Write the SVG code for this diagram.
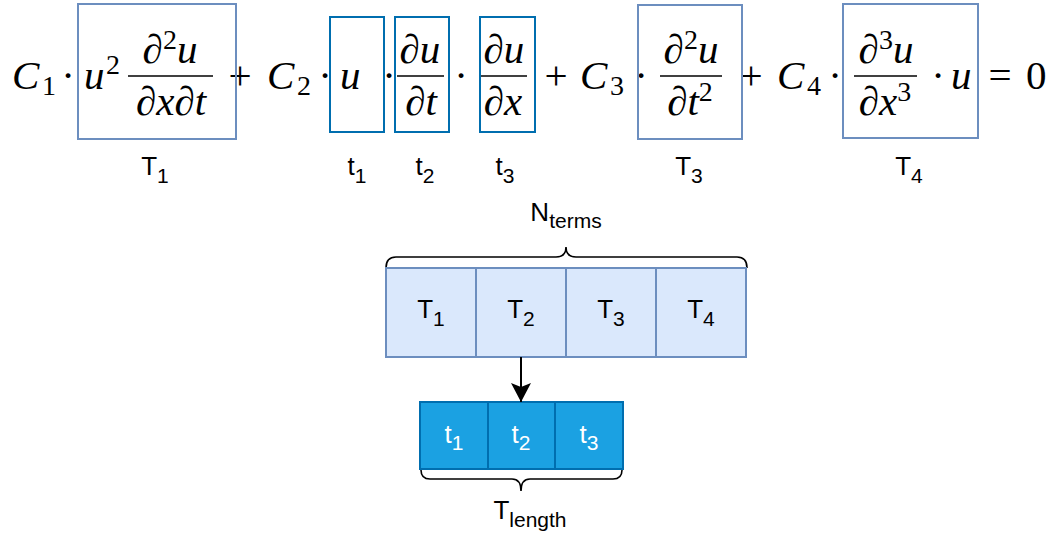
<svg xmlns="http://www.w3.org/2000/svg" width="1055" height="535" viewBox="0 0 1055 535">
<style>
.m{font-family:"Liberation Serif","Times New Roman",serif;font-size:41px;font-style:italic;fill:#000}
.r{font-style:normal}
.ms{font-size:28px}
.bar{stroke:#000;stroke-width:1.6}
.T{fill:none;stroke:#6c8ebf;stroke-width:2}
.t{fill:none;stroke:#006eaf;stroke-width:2}
.lbl{font-family:"Liberation Sans",Arial,sans-serif;font-size:26px;fill:#000}
.sub{font-size:21px}
.cellA{fill:#dae8fc;stroke:#6c8ebf;stroke-width:2}
.cellB{fill:#1ba1e2;stroke:#006eaf;stroke-width:2}
.w{fill:#fff}
.brace{fill:none;stroke:#000;stroke-width:1.6}
</style>
<defs>
<marker id="ah" markerWidth="20" markerHeight="20" viewBox="0 0 20 20" refX="19" refY="10" orient="auto" markerUnits="userSpaceOnUse">
<path d="M0,0 L19,10 L0,20 L4,10 Z" fill="#000"/>
</marker>
</defs>

<g id="equation">
<text class="m" x="12" y="89">C</text>
<text class="m r ms" x="42" y="95">1</text>
<text class="m r" x="68" y="89" text-anchor="middle">·</text>
<text class="m" x="84" y="89">u</text>
<text class="m r ms" x="106" y="74">2</text>
<line class="bar" x1="128" y1="76" x2="213" y2="76"/>
<text class="m" x="170" y="63" text-anchor="middle">∂<tspan class="r ms" dy="-14">2</tspan><tspan dy="14">u</tspan></text>
<text class="m" x="171" y="115" text-anchor="middle">∂x∂t</text>
<text class="m r" x="240" y="89" text-anchor="middle">+</text>
<text class="m" x="267" y="89">C</text>
<text class="m r ms" x="297" y="95">2</text>
<text class="m r" x="325" y="89" text-anchor="middle">·</text>
<text class="m" x="340" y="89">u</text>
<text class="m r" x="389" y="89" text-anchor="middle">·</text>
<line class="bar" x1="397" y1="76" x2="444" y2="76"/>
<text class="m" x="420" y="63" text-anchor="middle">∂u</text>
<text class="m" x="421" y="115" text-anchor="middle">∂t</text>
<text class="m r" x="461" y="89" text-anchor="middle">·</text>
<line class="bar" x1="481" y1="76" x2="527" y2="76"/>
<text class="m" x="504" y="63" text-anchor="middle">∂u</text>
<text class="m" x="503" y="115" text-anchor="middle">∂x</text>
<text class="m r" x="556" y="89" text-anchor="middle">+</text>
<text class="m" x="580" y="89">C</text>
<text class="m r ms" x="610" y="95">3</text>
<text class="m r" x="641" y="89" text-anchor="middle">·</text>
<line class="bar" x1="660" y1="76" x2="722" y2="76"/>
<text class="m" x="691" y="63" text-anchor="middle">∂<tspan class="r ms" dy="-14">2</tspan><tspan dy="14">u</tspan></text>
<text class="m" x="690" y="115" text-anchor="middle">∂t<tspan class="r ms" dy="-14">2</tspan></text>
<text class="m r" x="751" y="89" text-anchor="middle">+</text>
<text class="m" x="777" y="89">C</text>
<text class="m r ms" x="807" y="95">4</text>
<text class="m r" x="835" y="89" text-anchor="middle">·</text>
<line class="bar" x1="854" y1="76" x2="917" y2="76"/>
<text class="m" x="886" y="63" text-anchor="middle">∂<tspan class="r ms" dy="-14">3</tspan><tspan dy="14">u</tspan></text>
<text class="m" x="885" y="115" text-anchor="middle">∂x<tspan class="r ms" dy="-14">3</tspan></text>
<text class="m r" x="938" y="89" text-anchor="middle">·</text>
<text class="m" x="951" y="89">u</text>
<text class="m r" x="1000" y="89" text-anchor="middle">=</text>
<text class="m r" x="1026" y="89">0</text>
</g>

<g id="box-T1"><rect class="T" x="78" y="4" width="158" height="135"/><text class="lbl" x="155" y="175" text-anchor="middle">T<tspan class="sub" dy="8">1</tspan></text></g>
<g id="box-t1"><rect class="t" x="330" y="17" width="54" height="115"/><text class="lbl" x="357" y="175" text-anchor="middle">t<tspan class="sub" dy="8">1</tspan></text></g>
<g id="box-t2"><rect class="t" x="395" y="17" width="54" height="115"/><text class="lbl" x="425" y="175" text-anchor="middle">t<tspan class="sub" dy="8">2</tspan></text></g>
<g id="box-t3"><rect class="t" x="480" y="17" width="55" height="115"/><text class="lbl" x="505" y="175" text-anchor="middle">t<tspan class="sub" dy="8">3</tspan></text></g>
<g id="box-T3"><rect class="T" x="638" y="5" width="104" height="134"/><text class="lbl" x="689" y="175" text-anchor="middle">T<tspan class="sub" dy="8">3</tspan></text></g>
<g id="box-T4"><rect class="T" x="843" y="4" width="135" height="134"/><text class="lbl" x="909" y="175" text-anchor="middle">T<tspan class="sub" dy="8">4</tspan></text></g>

<g id="nterms">
<path class="brace" d="M386,268 Q386,257 396,257 L556,257 Q566,257 566,247 Q566,257 576,257 L737,257 Q747,257 747,268"/>
<text class="lbl" x="566" y="221" text-anchor="middle">N<tspan class="sub" dy="7">terms</tspan></text>
</g>
<g id="cell-T1"><rect class="cellA" x="386" y="268" width="90" height="89"/><text class="lbl" x="431" y="318" text-anchor="middle">T<tspan class="sub" dy="8">1</tspan></text></g>
<g id="cell-T2"><rect class="cellA" x="476" y="268" width="90" height="89"/><text class="lbl" x="521" y="318" text-anchor="middle">T<tspan class="sub" dy="8">2</tspan></text></g>
<g id="cell-T3"><rect class="cellA" x="566" y="268" width="90" height="89"/><text class="lbl" x="611" y="318" text-anchor="middle">T<tspan class="sub" dy="8">3</tspan></text></g>
<g id="cell-T4"><rect class="cellA" x="656" y="268" width="90" height="89"/><text class="lbl" x="701" y="318" text-anchor="middle">T<tspan class="sub" dy="8">4</tspan></text></g>

<g id="cell-t1"><rect class="cellB" x="420" y="402" width="68" height="67"/><text class="lbl w" x="454" y="443" text-anchor="middle">t<tspan class="sub" dy="7">1</tspan></text></g>
<g id="cell-t2"><rect class="cellB" x="488" y="402" width="67" height="67"/><text class="lbl w" x="521" y="443" text-anchor="middle">t<tspan class="sub" dy="7">2</tspan></text></g>
<g id="cell-t3"><rect class="cellB" x="555" y="402" width="68" height="67"/><text class="lbl w" x="589" y="443" text-anchor="middle">t<tspan class="sub" dy="7">3</tspan></text></g>
<g id="tlength">
<path class="brace" d="M421,470 Q421,479 430,479 L512,479 Q521,479 521,491 Q521,479 530,479 L613,479 Q622,479 622,470"/>
<text class="lbl" x="530" y="519" text-anchor="middle">T<tspan class="sub" dy="8">length</tspan></text>
</g>

<g id="connectors">
<line x1="521" y1="357" x2="521" y2="402" stroke="#000" stroke-width="2" marker-end="url(#ah)"/>
</g>
</svg>
